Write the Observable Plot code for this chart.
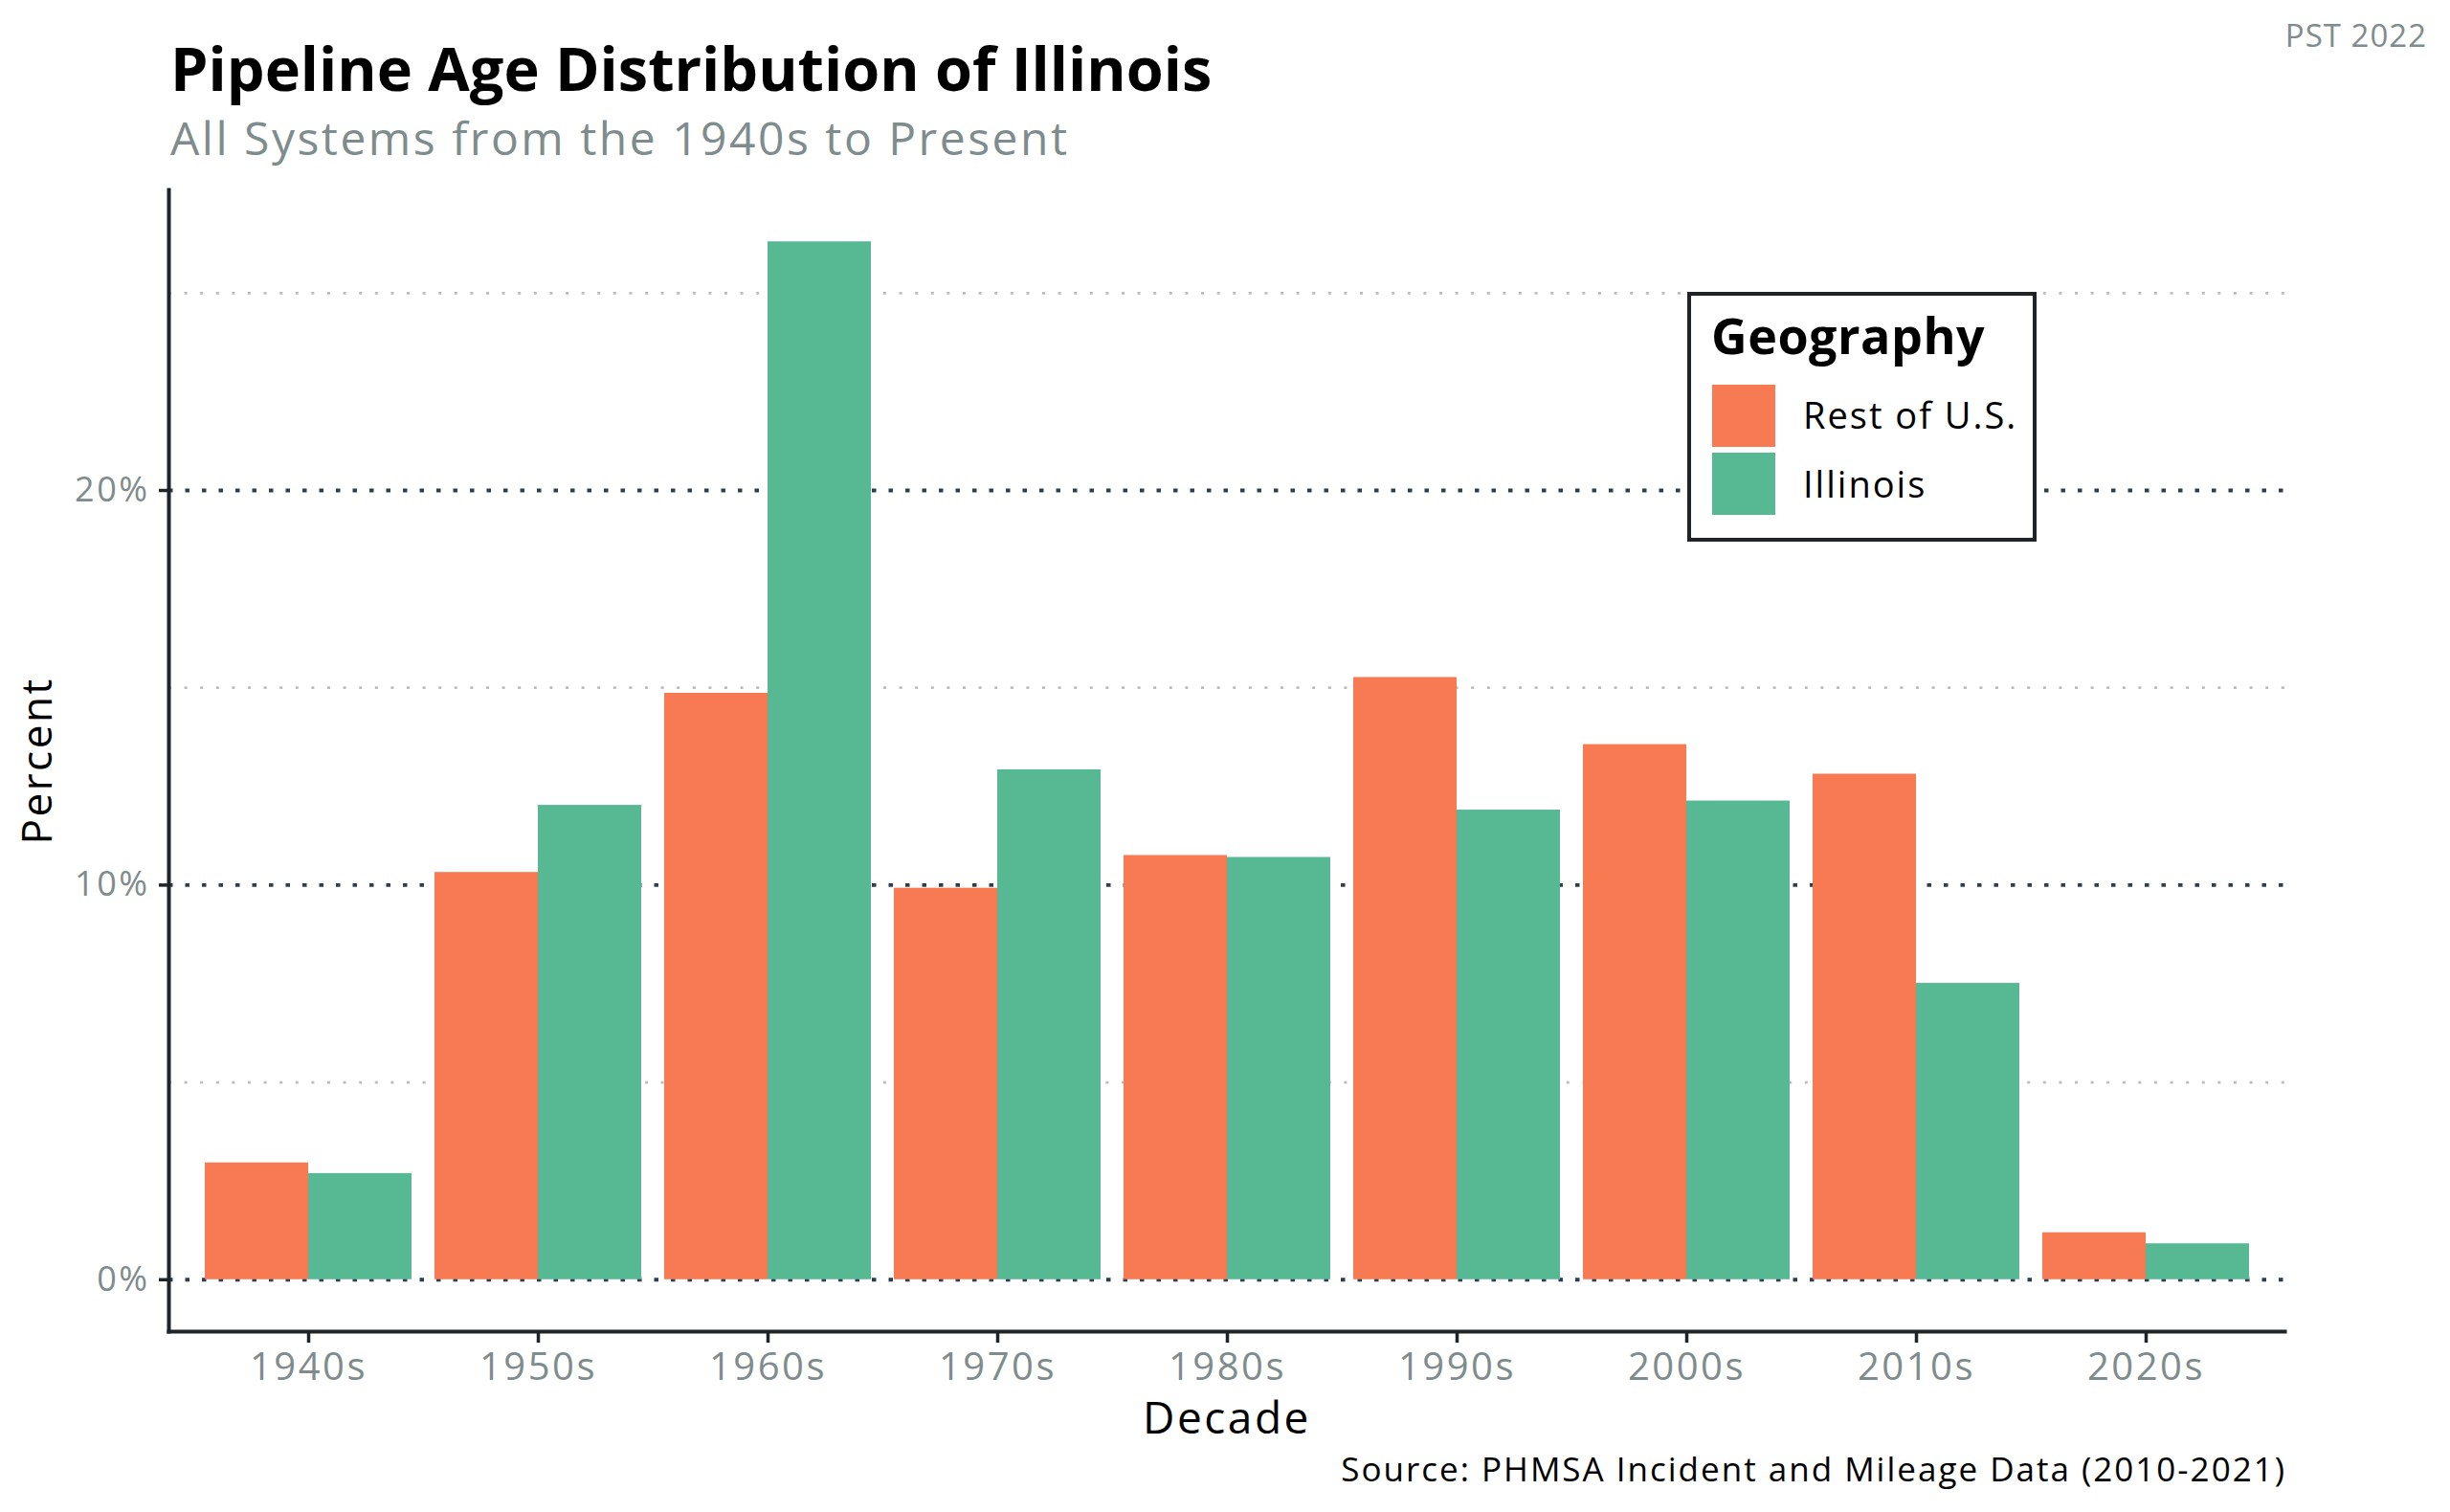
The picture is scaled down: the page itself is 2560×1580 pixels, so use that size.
<!DOCTYPE html>
<html>
<head>
<meta charset="utf-8">
<script src="https://cdn.jsdelivr.net/npm/d3@7"></script>
<script src="https://cdn.jsdelivr.net/npm/@observablehq/plot@0.6"></script>
<style>
  html, body { margin: 0; padding: 0; background: #fff; }
  #wrap { position: relative; width: 2560px; height: 1580px; overflow: hidden; background: #fff; font-family: 'Open Sans', sans-serif; }
  .abs { position: absolute; line-height: 1; white-space: nowrap; }
  #title { left: 178px; top: 39px; font-size: 63px; font-weight: 700; color: #000; }
  #subtitle { left: 178px; top: 120px; font-size: 48px; letter-spacing: 2.5px; color: #7f8c8d; }
  #pst { right: 24px; top: 20px; font-size: 33px; letter-spacing: 1px; color: #7f8c8d; }
  #caption { right: 171px; top: 1517px; font-size: 35px; letter-spacing: 2px; color: #000; }
  .plotlayer { position: absolute; left: 0; top: 120px; }
  .plotlayer svg text { letter-spacing: 2.5px; }
  #legend { position: absolute; left: 1763px; top: 305px; width: 365px; height: 261px; box-sizing: border-box;
            border: 4px solid #1e2428; background: #fff; }
  #legend .lt { position: absolute; left: 21px; top: 15px; font-size: 52px; font-weight: 700; line-height: 1; color: #000; letter-spacing: 0.5px; }
  #legend .sw { position: absolute; left: 22px; width: 66px; height: 65px; }
  #legend .lb { position: absolute; left: 117px; font-size: 38px; letter-spacing: 2px; line-height: 1; color: #000; white-space: nowrap; }
</style>
</head>
<body>
<div id="wrap">
  <div id="title" class="abs">Pipeline Age Distribution of Illinois</div>
  <div id="subtitle" class="abs">All Systems from the 1940s to Present</div>
  <div id="pst" class="abs">PST 2022</div>
  <div id="base" class="plotlayer"></div>
  <div id="bars" class="plotlayer"></div>
  <div id="legend"></div>
  <div id="caption" class="abs">Source: PHMSA Incident and Mileage Data (2010-2021)</div>
</div>
<script>
// ---- data ----
const decades = ["1940s", "1950s", "1960s", "1970s", "1980s", "1990s", "2000s", "2010s", "2020s"];
const geographies = ["Rest of U.S.", "Illinois"];
const restOfUS = [2.96, 10.32, 14.86, 9.92, 10.75, 15.26, 13.56, 12.81, 1.19];
const illinois = [2.69, 12.02, 26.30, 12.92, 10.70, 11.90, 12.13, 7.51, 0.91];
const majorTicks = [0, 10, 20];
const minorTicks = [5, 15, 25];
const colors = ["#f87a52", "#56b993"];

// ---- build table ----
const data = [];
decades.forEach((d, i) => {
  data.push({decade: d, geo: geographies[0], value: restOfUS[i]});
  data.push({decade: d, geo: geographies[1], value: illinois[i]});
});

// ggplot-like expansion (5%) of [0, max]
const maxV = d3.max(data, d => d.value);
const yDomain = [-0.05 * maxV, maxV * 1.05];

const W = 2560, H = 1390;
const M = {marginTop: 78, marginBottom: 119, marginLeft: 176, marginRight: 173};
const FONT = "'Open Sans', sans-serif";
const DARK = "#1e2428";
const GRAY = "#7f8c8d";

// background layer: grid, y axis, axis lines, axis titles
const base = Plot.plot({
  width: W, height: H, ...M,
  style: {fontFamily: FONT, fontSize: "34px", background: "transparent", overflow: "visible"},
  y: {domain: yDomain, axis: null},
  marks: [
    Plot.ruleY(minorTicks, {stroke: "#bdbdbd", strokeWidth: 2.8, strokeDasharray: "3,13.6"}),
    Plot.ruleY(majorTicks, {stroke: "#2c3e50", strokeWidth: 3.8, strokeDasharray: "4.5,13"}),
    Plot.axisY({ticks: majorTicks, tickSize: 10, tickPadding: 10, tickFormat: d => d + "%",
                stroke: DARK, strokeWidth: 3.5, fill: GRAY, fontSize: 36, label: null}),
    Plot.frame({anchor: "left", stroke: DARK, strokeWidth: 4}),
    Plot.frame({anchor: "bottom", stroke: DARK, strokeWidth: 4}),
    Plot.text(["Decade"], {text: d => d, frameAnchor: "bottom", lineAnchor: "bottom", dy: 106, fontSize: 46, fill: "#000"}),
    Plot.text(["Percent"], {text: d => d, frameAnchor: "left", textAnchor: "middle", lineAnchor: "middle", dx: -137, rotate: -90, fontSize: 44, fill: "#000"})
  ]
});
document.getElementById("base").appendChild(base);

// foreground layer: dodged bars faceted by decade + decade axis
const bars = Plot.plot({
  width: W, height: H, ...M,
  style: {fontFamily: FONT, background: "transparent", overflow: "visible"},
  fx: {domain: decades, paddingInner: 0.1, paddingOuter: 0.15, axis: null, label: null},
  x: {domain: geographies, padding: 0, axis: null},
  y: {domain: yDomain, axis: null},
  color: {domain: geographies, range: colors},
  marks: [
    Plot.barY(data, {fx: "decade", x: "geo", y: "value", fill: "geo"}),
    Plot.axisFx({anchor: "bottom", tickSize: 12, tickPadding: 10, stroke: DARK, strokeWidth: 3.5,
                 fill: GRAY, fontSize: 40, label: null})
  ]
});
document.getElementById("bars").appendChild(bars);

// ---- legend ----
const legend = document.getElementById("legend");
const lt = document.createElement("div");
lt.className = "lt"; lt.textContent = "Geography";
legend.appendChild(lt);
geographies.forEach((g, i) => {
  const sw = document.createElement("div");
  sw.className = "sw";
  sw.style.top = (93 + i * 71) + "px";
  sw.style.background = colors[i];
  legend.appendChild(sw);
  const lb = document.createElement("div");
  lb.className = "lb";
  lb.style.top = (105 + i * 72) + "px";
  lb.textContent = g;
  legend.appendChild(lb);
});
</script>
</body>
</html>
